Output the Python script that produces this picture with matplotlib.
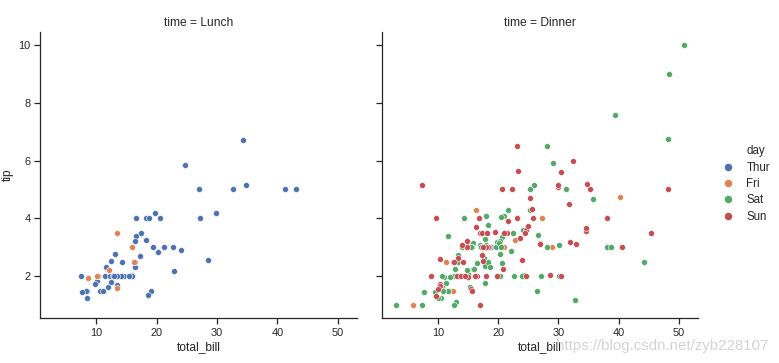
import matplotlib.pyplot as plt
from matplotlib.lines import Line2D

# tips data split by meal time and day (total_bill, tip)
lunch_thur_bill = [27.2, 22.76, 17.29, 19.44, 16.66, 10.07, 32.68, 15.98, 34.83, 13.03, 18.28, 24.71, 21.16,
                   10.65, 12.43, 24.08, 11.69, 13.42, 14.26, 15.95, 12.48, 29.8, 8.52, 14.52, 11.38, 22.82,
                   19.08, 20.27, 11.17, 12.26, 18.26, 8.51, 10.33, 14.15, 16.0, 13.16, 17.47, 34.3, 41.19,
                   27.05, 16.43, 8.35, 18.64, 11.87, 9.78, 7.51, 19.81, 28.44, 15.48, 16.58, 7.56, 10.34,
                   43.11, 13.0, 13.51, 18.71, 12.74, 13.0, 16.4, 20.53, 16.47]
lunch_thur_tip = [4.0, 3.0, 2.71, 3.0, 3.4, 1.83, 5.0, 2.03, 5.17, 2.0, 4.0, 5.85, 3.0,
                  1.5, 1.8, 2.92, 2.31, 1.68, 2.5, 2.0, 2.52, 4.2, 1.48, 2.0, 2.0, 2.18,
                  1.5, 2.83, 1.5, 2.0, 3.25, 1.25, 2.0, 2.0, 2.0, 2.75, 3.5, 6.7, 5.0,
                  5.0, 2.3, 1.5, 1.36, 1.63, 1.73, 2.0, 4.19, 2.56, 2.02, 4.0, 1.44, 2.0,
                  5.0, 2.0, 2.0, 4.0, 2.01, 2.0, 2.5, 4.0, 3.23]
lunch_fri_bill = [12.16, 13.42, 8.58, 15.98, 13.42, 16.27, 10.09]
lunch_fri_tip = [2.2, 3.48, 1.92, 3.0, 1.58, 2.5, 2.0]

dinner_thur_bill = [18.78]
dinner_thur_tip = [3.0]
dinner_fri_bill = [28.97, 22.49, 5.75, 16.32, 22.75, 40.17, 27.28, 12.03, 21.01, 12.46, 11.35, 15.38]
dinner_fri_tip = [3.0, 3.5, 1.0, 4.3, 3.25, 4.73, 4.0, 1.5, 3.0, 1.5, 2.5, 3.0]
dinner_sat_bill = [20.65, 17.92, 20.29, 15.77, 39.42, 19.82, 17.81, 13.37, 12.69, 21.7, 19.65, 9.55,
                   18.35, 15.06, 20.69, 17.78, 24.06, 16.31, 16.93, 18.69, 31.27, 16.04,
                   38.01, 26.41, 11.24, 48.27, 20.29, 13.81, 11.02, 18.29, 17.59, 20.08, 16.45, 3.07,
                   20.23, 15.01, 12.02, 17.07, 26.86, 25.28, 14.73, 10.51, 17.92,
                   44.3, 22.42, 20.92, 15.36, 20.49, 25.21, 18.24, 14.31, 14.0, 7.25,
                   10.59, 10.63, 50.81, 15.81,
                   26.59, 38.73, 24.27, 12.76, 30.06, 25.89, 48.33, 13.27, 28.17, 12.9, 28.15, 11.59,
                   7.74, 30.14,
                   20.45, 13.28, 22.12, 24.01, 15.69, 11.61, 10.77, 15.53, 10.07, 12.6, 32.83, 35.83,
                   29.03, 27.18, 22.67, 17.82]
dinner_sat_tip = [3.35, 4.08, 2.75, 2.23, 7.58, 3.18, 2.34, 2.0, 2.0, 4.3, 3.0, 1.45,
                  2.5, 3.0, 2.45, 3.27, 3.6, 2.0, 3.07, 2.31, 5.0, 2.24,
                  3.0, 1.5, 1.76, 6.73, 3.21, 2.0, 1.98, 3.76, 2.64, 3.15, 2.47, 1.0,
                  2.01, 2.09, 1.97, 3.0, 3.14, 5.0, 2.2, 1.25, 3.08,
                  2.5, 3.48, 4.08, 1.64, 4.06, 4.29, 3.76, 4.0, 3.0, 1.0,
                  1.61, 2.0, 10.0, 3.16,
                  3.41, 3.0, 2.03, 2.23, 2.0, 5.16, 9.0, 2.5, 6.5, 1.1, 3.0, 1.5,
                  1.44, 3.09,
                  3.0, 2.72, 2.88, 2.0, 3.0, 3.39, 1.47, 3.0, 1.25, 1.0, 1.17, 4.67,
                  5.92, 2.0, 2.0, 1.75]
dinner_sun_bill = [16.99, 10.34, 21.01, 23.68, 24.59, 25.29, 8.77, 26.88, 15.04, 14.78, 10.27, 35.26,
                   15.42, 18.43, 14.83, 21.58, 10.33, 16.29, 16.97,
                   17.46, 13.94, 9.68, 30.4, 18.29, 22.23, 32.4, 28.55, 18.04, 12.54, 10.29, 34.81,
                   9.94, 25.56, 19.49,
                   38.07, 23.95, 25.71, 17.31, 29.93,
                   14.07, 13.13, 17.26, 24.55, 19.77, 29.85, 48.17, 25.0, 13.39, 16.49, 21.5, 12.66,
                   16.21, 13.81, 17.51, 24.52, 20.76, 31.71,
                   7.25, 31.85, 16.82, 32.9, 17.89, 14.48, 9.6, 34.63, 34.65, 23.33, 45.35, 23.17,
                   40.55, 20.69, 20.9, 30.46, 18.15, 23.1, 15.69]
dinner_sun_tip = [1.01, 1.66, 3.5, 3.31, 3.61, 4.71, 2.0, 3.12, 1.96, 3.23, 1.71, 5.0,
                  1.57, 3.0, 3.02, 3.92, 1.67, 3.71, 3.5,
                  2.54, 3.06, 1.32, 5.6, 3.0, 5.0, 6.0, 2.05, 3.0, 2.5, 2.6, 5.2,
                  1.56, 4.34, 3.51,
                  4.0, 2.55, 4.0, 3.5, 5.07,
                  2.5, 2.0, 2.74, 2.0, 2.0, 5.14, 5.0, 3.75, 2.61, 2.0, 3.5, 2.5,
                  2.0, 2.0, 3.0, 3.48, 2.24, 4.5,
                  5.15, 3.18, 4.0, 3.11, 2.0, 2.0, 4.0, 3.55, 3.68, 5.65, 3.5, 6.5,
                  3.0, 5.0, 3.5, 2.0, 3.5, 4.0, 1.5]

days = ['Thur', 'Fri', 'Sat', 'Sun']
colors = {'Thur': '#4c72b0', 'Fri': '#dd8452', 'Sat': '#55a868', 'Sun': '#c44e52'}

panels = {
    'Lunch': {'Thur': (lunch_thur_bill, lunch_thur_tip), 'Fri': (lunch_fri_bill, lunch_fri_tip)},
    'Dinner': {'Thur': (dinner_thur_bill, dinner_thur_tip), 'Fri': (dinner_fri_bill, dinner_fri_tip),
               'Sat': (dinner_sat_bill, dinner_sat_tip), 'Sun': (dinner_sun_bill, dinner_sun_tip)},
}

plt.rcParams['font.family'] = ['Liberation Sans', 'DejaVu Sans']
dark = '#262626'
plt.rcParams.update({
    'axes.edgecolor': dark, 'axes.linewidth': 1.25, 'text.color': dark,
    'axes.labelcolor': dark, 'xtick.color': dark, 'ytick.color': dark,
    'xtick.major.size': 6, 'ytick.major.size': 6,
    'xtick.major.width': 1.25, 'ytick.major.width': 1.25,
    'xtick.labelsize': 11, 'ytick.labelsize': 11, 'axes.labelsize': 12,
    'axes.titlesize': 12,
})

fig = plt.figure(figsize=(779 / 72, 363 / 72), dpi=72)
ax1 = fig.add_axes([40 / 779, 1 - 318 / 363, 317 / 779, 286 / 363])
ax2 = fig.add_axes([382 / 779, 1 - 318 / 363, 316 / 779, 286 / 363], sharex=ax1, sharey=ax1)

for ax, time in [(ax1, 'Lunch'), (ax2, 'Dinner')]:
    for day in days:
        if day in panels[time]:
            bill, tip = panels[time][day]
            ax.scatter(bill, tip, s=36, color=colors[day], edgecolor='white', linewidth=0.6, zorder=3)
    ax.set_title('time = ' + time)
    ax.set_xlabel('total_bill')
    ax.spines['top'].set_visible(False)
    ax.spines['right'].set_visible(False)

ax1.set_xlim(0.68, 53.2)
ax1.set_ylim(0.55, 10.45)
ax1.set_xticks([10, 20, 30, 40, 50])
ax1.set_yticks([2, 4, 6, 8, 10])
ax1.set_ylabel('tip')
ax2.tick_params(labelleft=False)

handles = [Line2D([], [], linestyle='none', marker='')]
labels = ['day']
for day in days:
    handles.append(Line2D([], [], linestyle='none', marker='o', markersize=7.5,
                          markerfacecolor=colors[day], markeredgewidth=0))
    labels.append(day)
fig.legend(handles, labels, loc='center left', bbox_to_anchor=(706 / 779, 1 - 184 / 363),
           frameon=False, fontsize=11.5, handletextpad=0.6, labelspacing=0.38)

fig.text(768 / 779, 1 - 350 / 363, 'https://blog.csdn.net/zyb228107', ha='right', va='baseline',
         fontsize=15, color='#cccccc', alpha=0.85)

fig.savefig('out.png', dpi=72)
